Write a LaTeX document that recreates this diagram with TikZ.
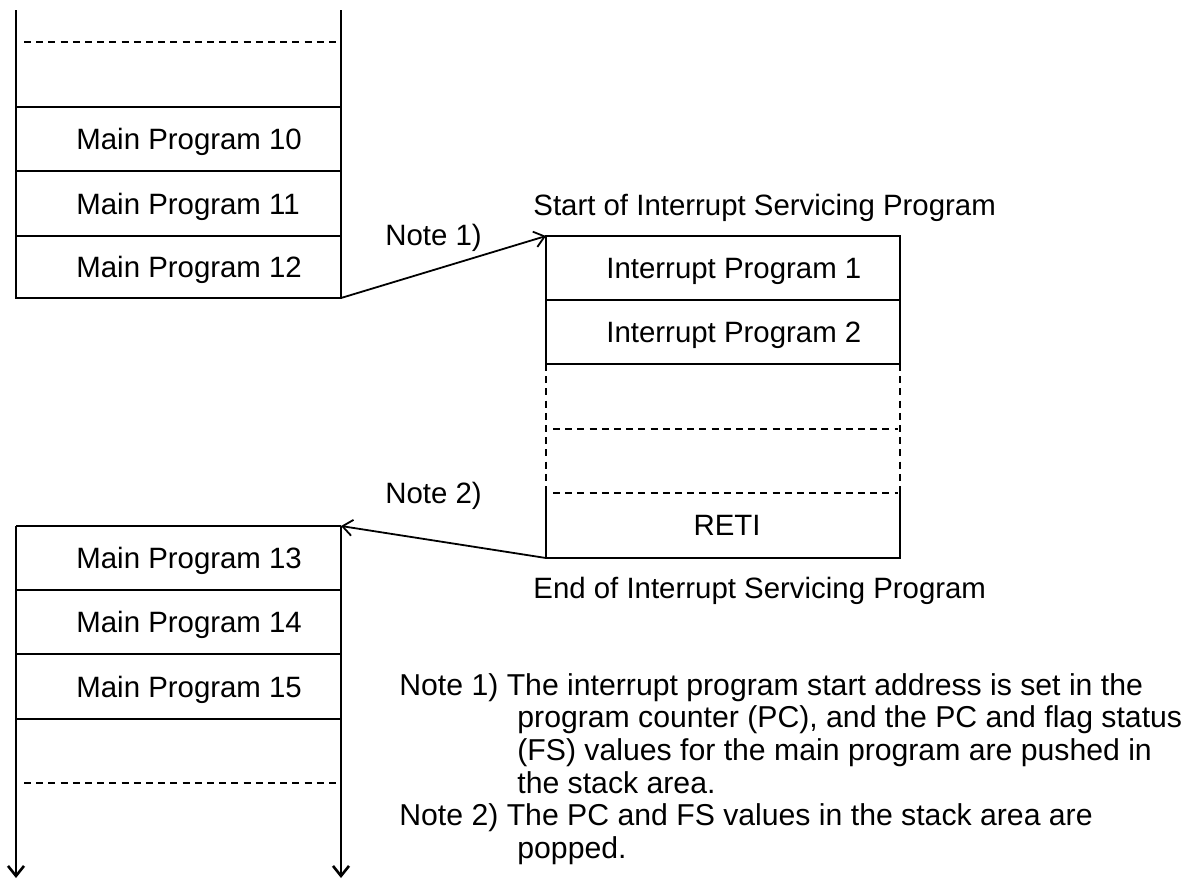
\documentclass[tikz,border=0pt]{standalone}
\usepackage{fontspec}
\setmainfont{Liberation Sans}
\usetikzlibrary{arrows.meta}
\begin{document}
\begin{tikzpicture}[x=0.5pt,y=-0.5pt]
\tikzset{
  rule/.style={line width=1.3pt},
  dashrule/.style={line width=1pt, dash pattern=on 3.5pt off 2.6pt},
  tip/.style={-{Straight Barb[length=5pt,width=8pt]}},
  flow/.style={line width=0.9pt, tip},
  txt/.style={anchor=base west, inner sep=0pt, font=\fontsize{14.7}{17}\selectfont},
  ctxt/.style={anchor=base, inner sep=0pt, font=\fontsize{14.7}{17}\selectfont},
  notetxt/.style={anchor=base west, inner sep=0pt, font=\fontsize{15.1}{17}\selectfont},
}
\useasboundingbox (0,0) rectangle (1189,880);

% ---- main program, before the interrupt ----
\draw[rule] (16,10) -- (16,298) -- (341,298) -- (341,10);
\draw[dashrule] (24,42) -- (338,42);
\draw[rule] (16,107) -- (341,107);
\draw[rule] (16,171) -- (341,171);
\draw[rule] (16,236) -- (341,236);
\node[txt] (m10) at (76,149) {Main Program 10};
\node[txt] (m11) at (76,214) {Main Program 11};
\node[txt] (m12) at (76,277) {Main Program 12};
\coordinate (mainA-out) at (341,298);

% ---- interrupt servicing program ----
\draw[rule] (546,364) -- (546,236) -- (900,236) -- (900,364);
\draw[rule] (546,300) -- (900,300);
\draw[rule] (546,364) -- (900,364);
\draw[dashrule] (546,364) -- (546,486);
\draw[dashrule] (900,364) -- (900,486);
\draw[rule] (546,486) -- (546,558) -- (900,558) -- (900,486);
\draw[dashrule] (553,429) -- (898,429);
\draw[dashrule] (553,493) -- (898,493);
\node[txt] (i1) at (606,278) {Interrupt Program 1};
\node[txt] (i2) at (606,342) {Interrupt Program 2};
\node[ctxt] (reti) at (727,535) {RETI};
\node[txt] (isrstart) at (533,215) {Start of Interrupt Servicing Program};
\node[txt] (isrend) at (533,598) {End of Interrupt Servicing Program};
\coordinate (isr-in) at (546,236);
\coordinate (isr-out) at (546,558);

% ---- main program, after the return ----
\draw[rule] (16,526) -- (341,526);
\draw[rule] (16,590) -- (341,590);
\draw[rule] (16,654) -- (341,654);
\draw[rule] (16,719) -- (341,719);
\draw[dashrule] (24,783) -- (338,783);
\coordinate (mainB-in) at (341,526);
\coordinate (mainB-l) at (16,526);
\coordinate (mainB-ldown) at (16,878);
\coordinate (mainB-rdown) at (341,878);
\draw[rule, tip] (mainB-l) -- (mainB-ldown);
\draw[rule, tip] (mainB-in) -- (mainB-rdown);
\node[txt] (m13) at (76,568) {Main Program 13};
\node[txt] (m14) at (76,632) {Main Program 14};
\node[txt] (m15) at (76,697) {Main Program 15};

% ---- transfer of control ----
\draw[flow] (mainA-out) -- (isr-in);
\draw[flow] (isr-out) -- (mainB-in);
\node[txt] (n1lbl) at (385,245) {Note 1)};
\node[txt] (n2lbl) at (385,503) {Note 2)};

% ---- notes ----
\node[notetxt] (n1a) at (399,695) {Note 1) The interrupt program start address is set in the};
\node[notetxt] (n1b) at (517,727) {program counter (PC), and the PC and flag status};
\node[notetxt] (n1c) at (517,760) {(FS) values for the main program are pushed in};
\node[notetxt] (n1d) at (517,793) {the stack area.};
\node[notetxt] (n2a) at (399,825) {Note 2) The PC and FS values in the stack area are};
\node[notetxt] (n2b) at (517,858) {popped.};
\end{tikzpicture}
\end{document}
